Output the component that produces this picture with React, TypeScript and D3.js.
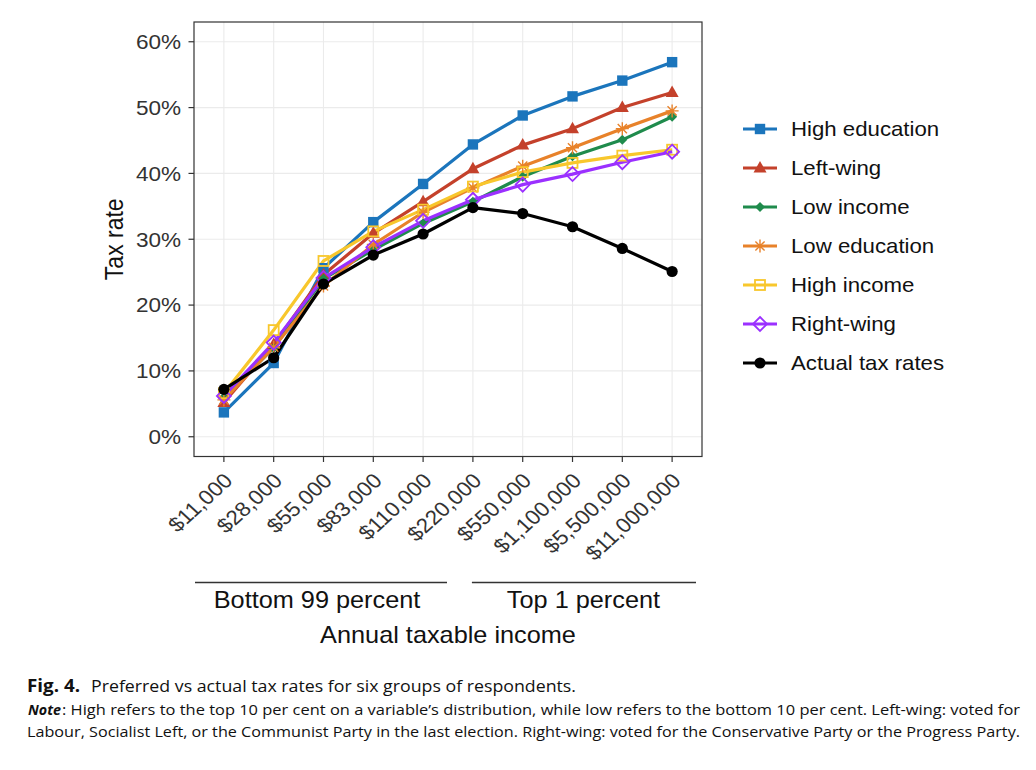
import React from 'react';
import * as d3 from 'd3';

// income brackets on the x axis
const incomes = [
  '$11,000', '$28,000', '$55,000', '$83,000', '$110,000',
  '$220,000', '$550,000', '$1,100,000', '$5,500,000', '$11,000,000',
];

const yTicks = [0, 10, 20, 30, 40, 50, 60];

// preferred tax rates (%)
const highEducation = [3.7, 11.2, 25.6, 32.6, 38.4, 44.4, 48.8, 51.7, 54.1, 56.9];
const leftWing = [5.2, 14.0, 24.6, 30.9, 35.7, 40.7, 44.3, 46.8, 50.0, 52.3];
const lowIncome = [6.0, 13.5, 24.0, 28.4, 32.4, 35.7, 39.5, 42.6, 45.1, 48.6];
const lowEducation = [5.6, 13.6, 22.9, 29.2, 34.1, 37.8, 41.1, 43.9, 46.8, 49.5];
const highIncome = [6.6, 16.2, 26.7, 31.2, 34.5, 38.0, 40.2, 41.6, 42.7, 43.6];
const rightWing = [6.2, 14.3, 24.1, 28.8, 32.8, 36.0, 38.3, 39.9, 41.7, 43.3];
const actualRates = [7.2, 12.0, 23.2, 27.6, 30.8, 34.8, 33.9, 31.9, 28.6, 25.1];

const seriesNames = [
  'High education', 'Left-wing', 'Low income', 'Low education',
  'High income', 'Right-wing', 'Actual tax rates',
];
const seriesValues = [
  highEducation, leftWing, lowIncome, lowEducation, highIncome, rightWing, actualRates,
];
const seriesColors = ['#1b75bc', '#c4412b', '#1f8b4c', '#e8822a', '#f8c72c', '#9b30ff', '#000000'];
const seriesShapes = ['square', 'triangle', 'diamond', 'asterisk', 'openSquare', 'openDiamond', 'circle'];

const FONT = '"Liberation Sans", Arial, Helvetica, sans-serif';
const SX = 1.1; // the reference text is a little wide

const panel = { left: 194, right: 702, top: 22, bottom: 456.5 };

function Marker({ shape, x, y, color }: { shape: string; x: number; y: number; color: string }) {
  switch (shape) {
    case 'square':
      return <rect x={x - 5.2} y={y - 5.2} width={10.4} height={10.4} fill={color} />;
    case 'triangle':
      return <path d={`M${x},${y - 7} L${x + 6.5},${y + 4.5} L${x - 6.5},${y + 4.5} Z`} fill={color} />;
    case 'diamond':
      return <path d={`M${x},${y - 5} L${x + 5},${y} L${x},${y + 5} L${x - 5},${y} Z`} fill={color} />;
    case 'asterisk': {
      const r = 6.5;
      const d = r * 0.707;
      return (
        <path
          d={`M${x - r},${y}H${x + r}M${x},${y - r}V${y + r}M${x - d},${y - d}L${x + d},${y + d}M${x - d},${y + d}L${x + d},${y - d}`}
          stroke={color}
          strokeWidth={1.4}
          fill="none"
        />
      );
    }
    case 'openSquare':
      return <rect x={x - 5} y={y - 5} width={10} height={10} fill="none" stroke={color} strokeWidth={1.8} />;
    case 'openDiamond':
      return (
        <path
          d={`M${x},${y - 7} L${x + 7},${y} L${x},${y + 7} L${x - 7},${y} Z`}
          fill="none"
          stroke={color}
          strokeWidth={1.8}
        />
      );
    default:
      return <circle cx={x} cy={y} r={5.6} fill={color} />;
  }
}

export default function App() {
  const x = d3
    .scalePoint<string>()
    .domain(incomes)
    .range([panel.left, panel.right])
    .padding(0.6);

  const y = d3.scaleLinear().domain([-3, 63]).range([panel.bottom, panel.top]);

  const line = d3
    .line<number>()
    .x((_, i) => x(incomes[i]) as number)
    .y(d => y(d));

  const splitX = (x(incomes[4])! + x(incomes[5])!) / 2;

  return (
    <svg
      width={1036}
      height={770}
      style={{ position: 'absolute', left: 0, top: 0, background: '#fff' }}
      fontFamily={FONT}
    >
      {/* grid */}
      {yTicks.map(t => (
        <line key={'gy' + t} x1={panel.left} x2={panel.right} y1={y(t)} y2={y(t)} stroke="#ebebeb" strokeWidth={1.1} />
      ))}
      {incomes.map(c => (
        <line key={'gx' + c} x1={x(c)} x2={x(c)} y1={panel.top} y2={panel.bottom} stroke="#ebebeb" strokeWidth={1.1} />
      ))}

      {/* lines */}
      {seriesValues.map((vals, i) => (
        <path key={'l' + i} d={line(vals) as string} fill="none" stroke={seriesColors[i]} strokeWidth={3.2} strokeLinejoin="round" />
      ))}
      {/* points */}
      {seriesValues.map((vals, i) =>
        vals.map((v, j) => (
          <Marker key={`p${i}-${j}`} shape={seriesShapes[i]} x={x(incomes[j]) as number} y={y(v)} color={seriesColors[i]} />
        )),
      )}

      {/* panel border */}
      <rect
        x={panel.left}
        y={panel.top}
        width={panel.right - panel.left}
        height={panel.bottom - panel.top}
        fill="none"
        stroke="#333"
        strokeWidth={1.2}
      />

      {/* y axis */}
      {yTicks.map(t => (
        <g key={'yt' + t}>
          <line x1={panel.left - 5.5} x2={panel.left} y1={y(t)} y2={y(t)} stroke="#333" strokeWidth={1.2} />
          <text
            transform={`translate(${panel.left - 13},${y(t) + 7.3}) scale(${SX},1)`}
            textAnchor="end"
            fontSize={20.5}
            fill="#333"
          >
            {t}%
          </text>
        </g>
      ))}
      <text
        transform={`translate(123,${(panel.top + panel.bottom) / 2}) scale(${SX},1) rotate(-90)`}
        textAnchor="middle"
        fontSize={23}
        fill="#111"
      >
        Tax rate
      </text>

      {/* x axis */}
      {incomes.map(c => (
        <g key={'xt' + c}>
          <line x1={x(c)} x2={x(c)} y1={panel.bottom} y2={panel.bottom + 5.5} stroke="#333" strokeWidth={1.2} />
          <text
            transform={`translate(${(x(c) as number) + 10},482) scale(${SX},1) rotate(-45)`}
            textAnchor="end"
            fontSize={20.5}
            fill="#333"
          >
            {c}
          </text>
        </g>
      ))}

      {/* bracket groups */}
      <line x1={panel.left + 1} x2={splitX - 1} y1={582.5} y2={582.5} stroke="#333" strokeWidth={1.4} />
      <line x1={x(incomes[5])! - 1} x2={panel.right - 6} y1={582.5} y2={582.5} stroke="#333" strokeWidth={1.4} />
      <text
        transform={`translate(${(panel.left + splitX) / 2 - 4},607.5) scale(${SX},1)`}
        textAnchor="middle"
        fontSize={23}
        fill="#111"
      >
        Bottom 99 percent
      </text>
      <text
        transform={`translate(${(x(incomes[5])! + panel.right - 6) / 2 - 1},607.5) scale(${SX},1)`}
        textAnchor="middle"
        fontSize={23}
        fill="#111"
      >
        Top 1 percent
      </text>
      <text
        transform={`translate(${(panel.left + panel.right) / 2},643) scale(${SX},1)`}
        textAnchor="middle"
        fontSize={23}
        fill="#111"
      >
        Annual taxable income
      </text>

      {/* legend */}
      {seriesNames.map((name, i) => {
        const ly = 129 + i * 39;
        return (
          <g key={'lg' + i}>
            <line x1={743} x2={777} y1={ly} y2={ly} stroke={seriesColors[i]} strokeWidth={3} />
            <Marker shape={seriesShapes[i]} x={760} y={ly} color={seriesColors[i]} />
            <text transform={`translate(791,${ly + 7.3}) scale(${SX},1)`} fontSize={20.2} fill="#111">
              {name}
            </text>
          </g>
        );
      })}

      {/* caption */}
      <g fontFamily='"Open Sans", "Noto Sans", sans-serif' fill="#111">
        <text x={27} y={692} fontSize={17} fontWeight="bold" textLength={53} lengthAdjust="spacingAndGlyphs">
          Fig. 4.
        </text>
        <text x={91} y={692} fontSize={17} textLength={485} lengthAdjust="spacingAndGlyphs">
          Preferred vs actual tax rates for six groups of respondents.
        </text>
        <text x={28} y={715} fontSize={15} fontWeight="bold" fontStyle="italic" textLength={33} lengthAdjust="spacingAndGlyphs">
          Note
        </text>
        <text x={62} y={715} fontSize={15} textLength={958} lengthAdjust="spacingAndGlyphs">
          : High refers to the top 10 per cent on a variable’s distribution, while low refers to the bottom 10 per cent. Left-wing: voted for
        </text>
        <text x={27} y={737} fontSize={15} textLength={993} lengthAdjust="spacingAndGlyphs">
          Labour, Socialist Left, or the Communist Party in the last election. Right-wing: voted for the Conservative Party or the Progress Party.
        </text>
      </g>
    </svg>
  );
}
